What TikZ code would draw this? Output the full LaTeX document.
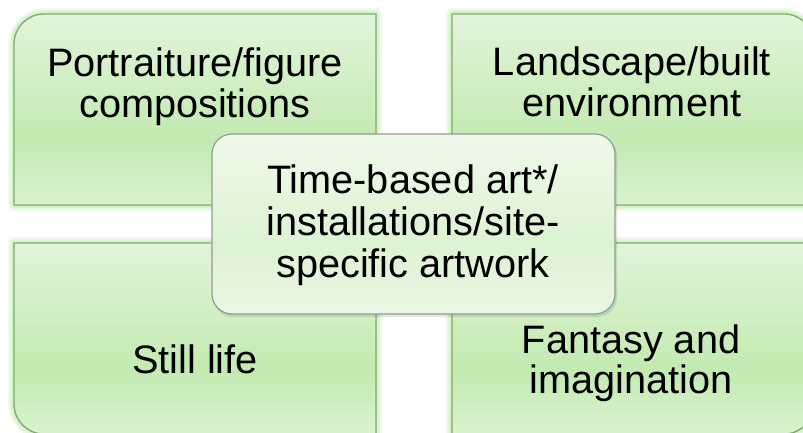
\documentclass[tikz,border=0pt]{standalone}
\usepackage{fontspec}
\setmainfont{Liberation Sans}

% colours of the four quadrant panels
\definecolor{qtop}{HTML}{E2F4DA}
\definecolor{qmid}{HTML}{C3EAB1}
\definecolor{qbot}{HTML}{DAF2CF}
\definecolor{qline}{HTML}{7EAD6B}
\definecolor{qglow}{HTML}{C4EBB3}
% colours of the central panel
\definecolor{ctop}{HTML}{EFF9EB}
\definecolor{cmid}{HTML}{DDF2D3}
\definecolor{cbot}{HTML}{EAF6E4}
\definecolor{cline}{HTML}{929D8F}

\pgfdeclareverticalshading{quadshade}{100bp}{%
  color(0bp)=(qbot); color(25bp)=(qbot); color(42bp)=(qmid);
  color(75bp)=(qtop); color(100bp)=(qtop)}
\pgfdeclareverticalshading{centershade}{100bp}{%
  color(0bp)=(cbot); color(25bp)=(cbot); color(45bp)=(cmid);
  color(75bp)=(ctop); color(100bp)=(ctop)}

\tikzset{
  quadglow/.style={draw=qglow, line join=round},
  quadpanel/.style={shading=quadshade},
  quadedge/.style={draw=qline, line width=1.3pt},
  centerpanel/.style={shading=centershade},
  centeredge/.style={draw=cline, line width=1.2pt},
  lbl/.style={font=\fontsize{39.7}{40}\selectfont, align=center, inner sep=0pt, anchor=base},
  clbl/.style={font=\fontsize{39.7}{42}\selectfont, align=center, inner sep=0pt, anchor=base},
}

% panel outlines, each with a single rounded outer corner
\newcommand{\pnlTL}{(14,227) -- (14,388) arc[start angle=180,end angle=90,radius=30] -- (376,418) -- (376,227) -- cycle}
\newcommand{\pnlTR}{(452,227) -- (452,418) -- (784,418) arc[start angle=90,end angle=0,radius=30] -- (814,227) -- cycle}
\newcommand{\pnlBL}{(14,28) -- (14,189) -- (376,189) -- (376,-2) -- (44,-2) arc[start angle=270,end angle=180,radius=30] -- cycle}
\newcommand{\pnlBR}{(452,-2) -- (452,189) -- (814,189) -- (814,28) arc[start angle=0,end angle=-90,radius=30] -- cycle}

\begin{document}
\begin{tikzpicture}[x=1pt,y=1pt]
  \useasboundingbox (0,0) rectangle (803,432);
  \clip (0,0) rectangle (803,432);

  % soft green glow round the four panels
  \foreach \w/\o in {12/0.25, 8/0.35, 4/0.5}{
    \draw[quadglow, line width=\w pt, opacity=\o] \pnlTL;
    \draw[quadglow, line width=\w pt, opacity=\o] \pnlTR;
    \draw[quadglow, line width=\w pt, opacity=\o] \pnlBL;
    \draw[quadglow, line width=\w pt, opacity=\o] \pnlBR;
  }

  % the four quadrant panels
  \path[quadpanel] \pnlTL;
  \path[quadpanel] \pnlTR;
  \path[quadpanel] \pnlBL;
  \path[quadpanel] \pnlBR;
  \draw[quadedge] \pnlTL;
  \draw[quadedge] \pnlTR;
  \draw[quadedge] \pnlBL;
  \draw[quadedge] \pnlBR;

  % faint shadow under the central panel
  \fill[black, opacity=0.10, rounded corners=20pt] (213,115) rectangle (617,296);
  % central panel
  \path[centerpanel, rounded corners=20pt] (212,118) rectangle (615,298);
  \draw[centeredge, rounded corners=20pt] (212,118) rectangle (615,298);

  % labels (base anchor sits on the last line)
  \node[lbl] (portrait) at (195,315) {Portraiture/figure\\compositions};
  \node[lbl] (landscape) at (632,316) {Landscape/built\\environment};
  \node[lbl] (still) at (195,59) {Still life};
  \node[lbl] (fantasy) at (631,39) {Fantasy and\\imagination};
  \node[clbl] (timebased) at (413,155) {Time-based art*/\\installations/site-\\specific artwork};
\end{tikzpicture}
\end{document}
